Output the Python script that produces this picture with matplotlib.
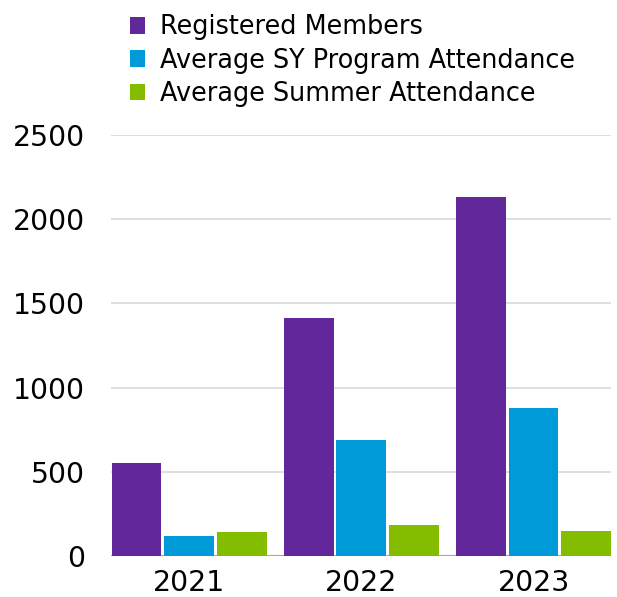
import matplotlib
matplotlib.use("Agg")
import matplotlib.pyplot as plt
import numpy as np

years = ["2021", "2022", "2023"]
series_names = ["Registered Members", "Average SY Program Attendance", "Average Summer Attendance"]
registered = [552, 1412, 2131]
sy_program = [120, 692, 878]
summer = [142, 184, 152]
colors = ["#62279b", "#009ad8", "#84bd00"]

plt.rcParams['font.family'] = ['DejaVu Sans']

fig = plt.figure(figsize=(6.17, 5.97), dpi=100)
ax = fig.add_axes([0.1799, 0.0682, 0.8104, 0.706])

x = np.arange(len(years))
step = 0.305
width = 0.29
handles = []
for i, (vals, c) in enumerate(zip([registered, sy_program, summer], colors)):
    b = ax.bar(x + (i - 1) * step, vals, width, color=c, label=series_names[i], zorder=3)
    handles.append(b)

ax.set_ylim(0, 2500)
ax.set_xlim(-0.453, 2.45)
ax.set_yticks([0, 500, 1000, 1500, 2000, 2500])
ax.set_xticks(x)
ax.set_xticklabels(years)
ax.yaxis.grid(True, color="#d9d9d9", linewidth=1.2, zorder=0)
ax.axhline(0, color="#a6a6a6", linewidth=1.5, zorder=2)
for s in ax.spines.values():
    s.set_visible(False)
ax.tick_params(axis="both", length=0, labelsize=20.3)
ax.tick_params(axis="y", pad=18.5)
ax.tick_params(axis="x", pad=9.5)

fig.legend(handles=handles, loc="upper left", bbox_to_anchor=(0.1935, 0.993),
           frameon=False, fontsize=18.4, handlelength=0.6, handleheight=0.6,
           handletextpad=0.6, labelspacing=0.28, borderaxespad=0)

fig.savefig("out.png", dpi=100)
